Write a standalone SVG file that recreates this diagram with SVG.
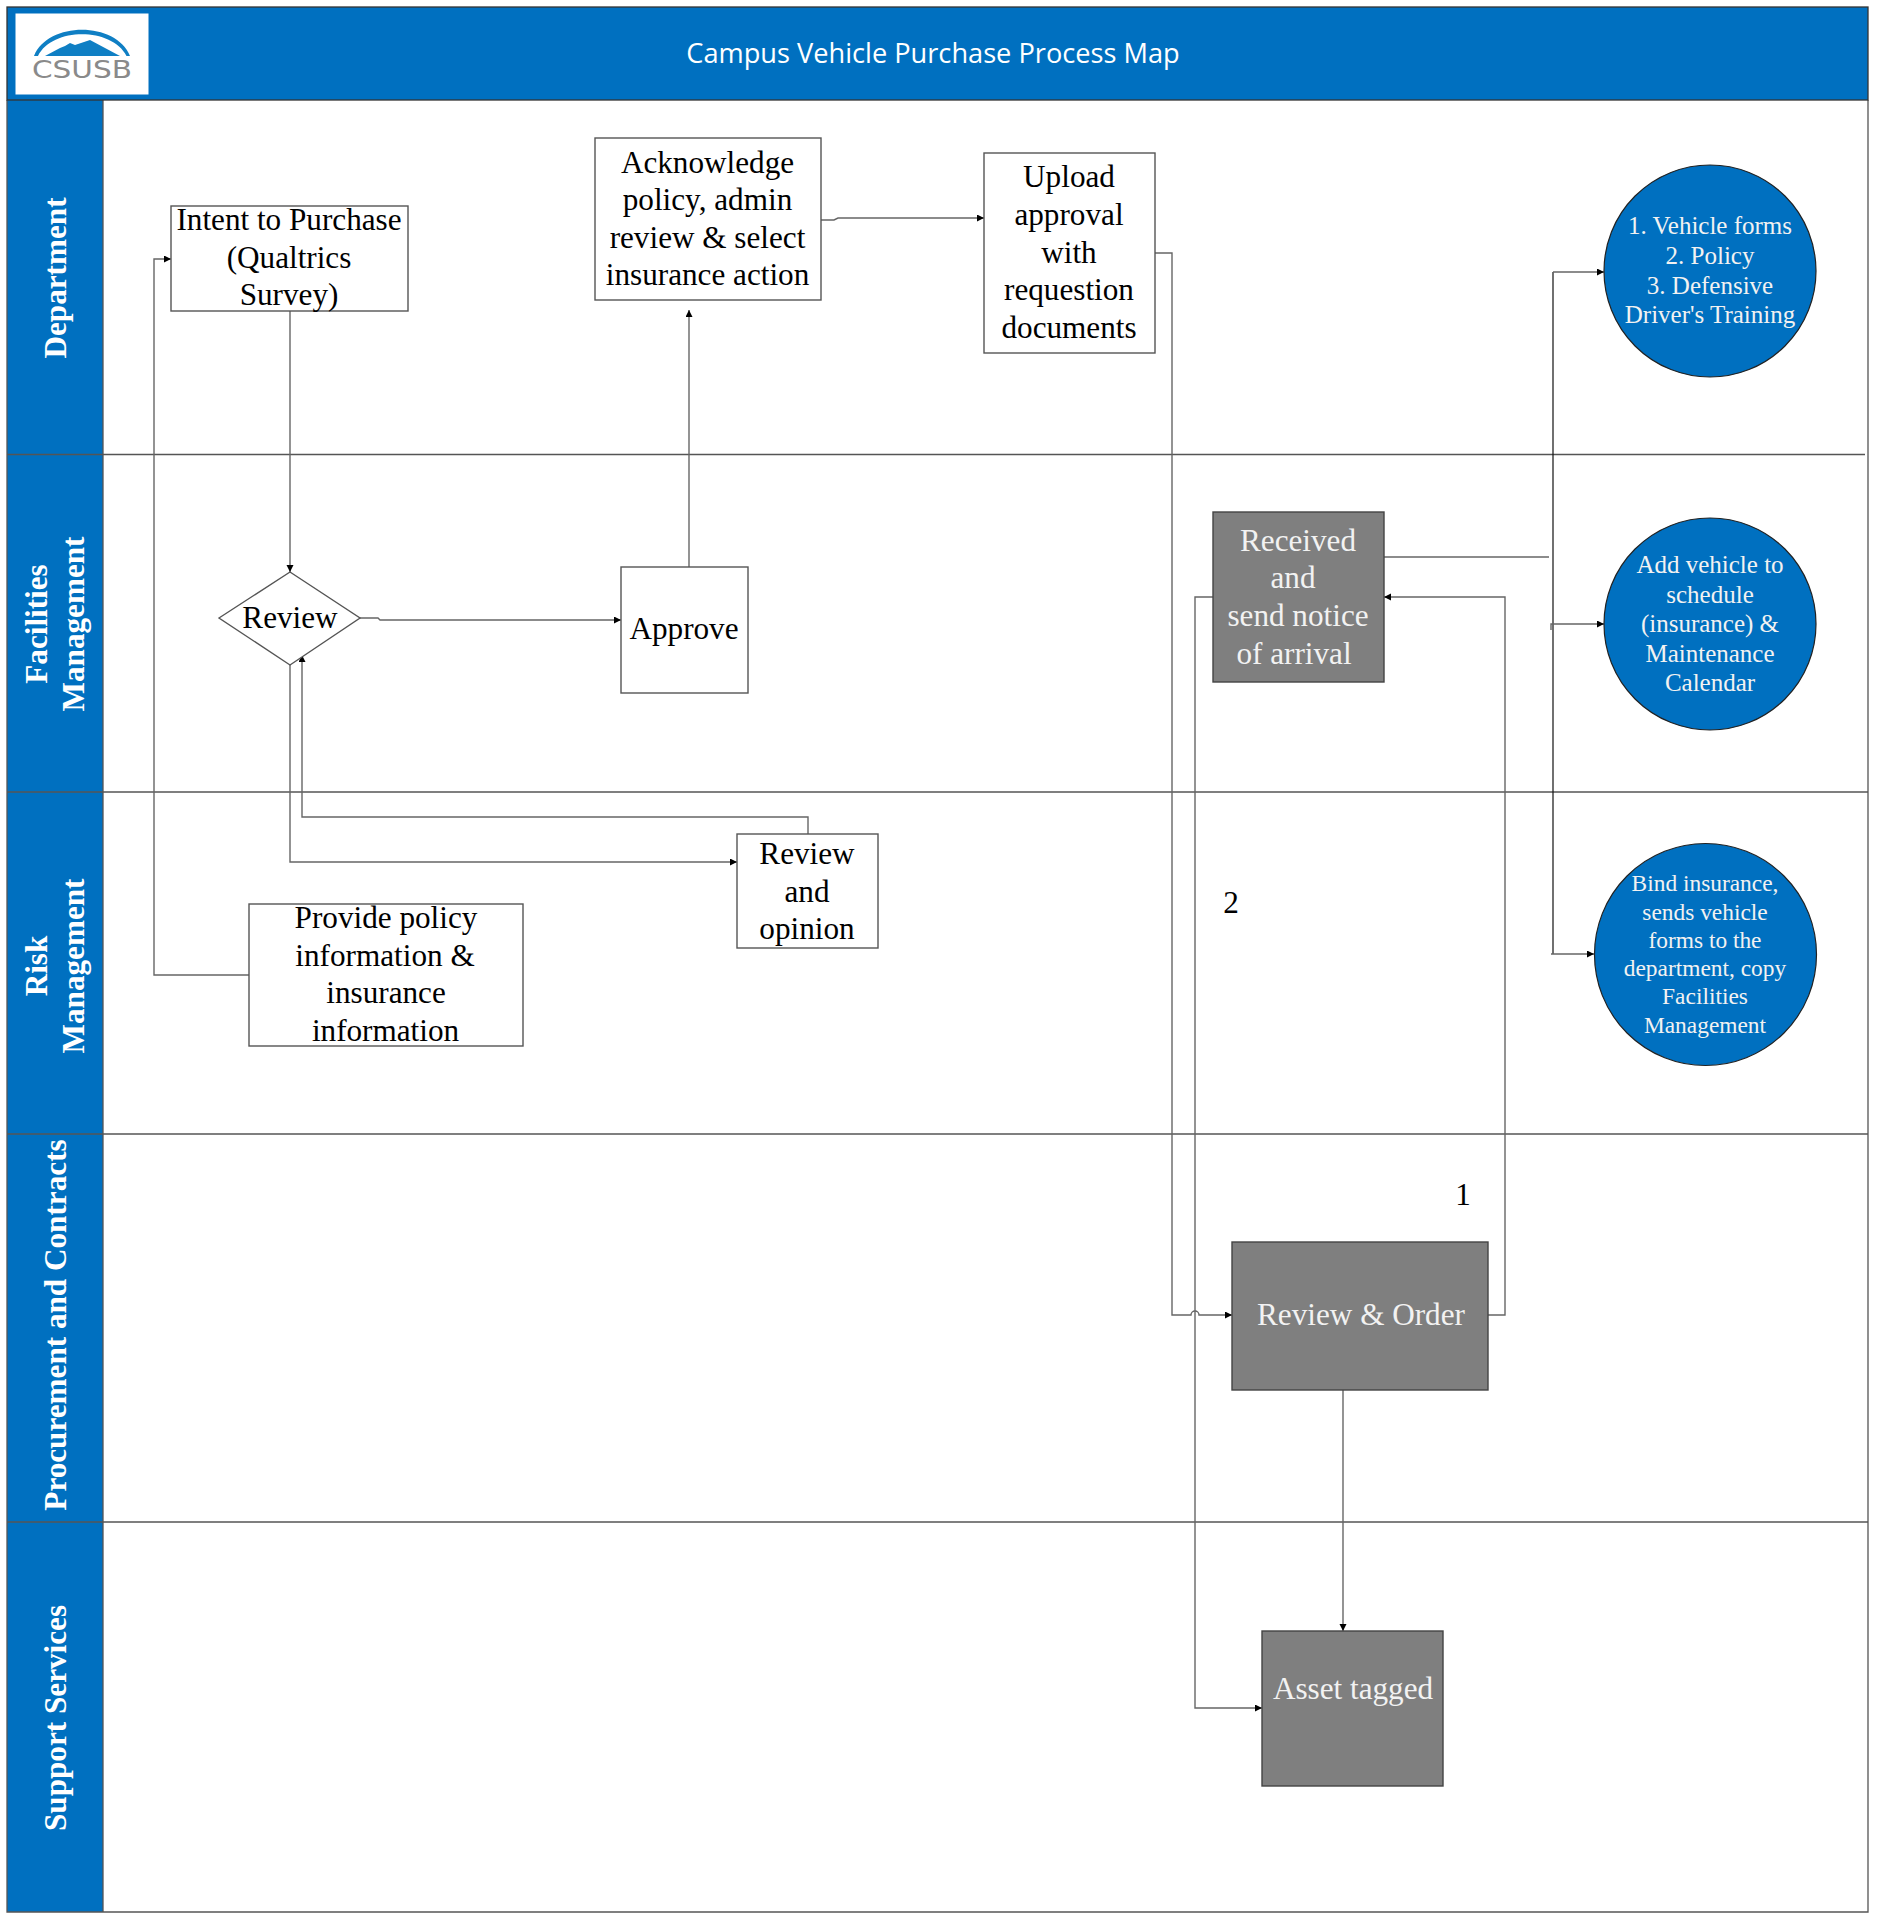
<svg xmlns="http://www.w3.org/2000/svg" width="1878" height="1920" viewBox="0 0 1878 1920">
<style>
text{font-family:"Liberation Serif","Times New Roman",serif;text-anchor:middle}
.n{fill:#fff;stroke:#555;stroke-width:1.4}
.g{fill:#7f7f7f;stroke:#444;stroke-width:1.4}
.c{fill:#0070c0;stroke:#222;stroke-width:1.2}
.t{font-size:31.2px;fill:#000}
.w{font-size:31.2px;fill:#f2f2f2}
.cw{font-size:25px;fill:#f2f2f2}
.lane{font-size:31.2px;font-weight:bold;fill:#fff}
.l{fill:none;stroke:#666;stroke-width:1.4}
.k{fill:none;stroke:#111;stroke-width:1.2}
.a{fill:none;stroke:#666;stroke-width:1.4;marker-end:url(#ar)}
.sep{fill:none;stroke:#555;stroke-width:1.3}
</style>
<defs><marker id="ar" markerUnits="userSpaceOnUse" markerWidth="8" markerHeight="8" refX="7" refY="3.5" orient="auto"><path d="M0,0L7,3.5L0,7z" fill="#000"/></marker></defs>
<rect width="1878" height="1920" fill="#fff"/>
<g id="swimlanes">
<rect x="7" y="100" width="96" height="1812" fill="#0070c0"/>
<path class="sep" d="M7,100V1912H1868V100M103,100V1912M7,454.500H1865M7,792H1868M7,1134H1868M7,1522H1868"/>
</g>
<g id="header">
<rect x="7" y="7" width="1861" height="93" fill="#0070c0" stroke="#333" stroke-width="1.3"/>
<text x="933" y="63" style="font-family:'Open Sans',sans-serif;font-size:27.200px;fill:#fff">Campus Vehicle Purchase Process Map</text>
</g>
<g id="logo">
<rect x="15.500" y="13.500" width="133" height="81" fill="#fff"/>
<path d="M34,56C48,21 116,21 130,56L126.500,56C112,27 52,27 38,56z" fill="#0f7fc4"/>
<path d="M45,56L60,48L65,46L70,43L75,45L90,40L120,56z" fill="#0f7fc4"/>
<text x="82" y="78" textLength="100" lengthAdjust="spacingAndGlyphs" style="font-family:'DejaVu Sans',sans-serif;font-size:24px;fill:#8a8a8a">CSUSB</text>
</g>
<g id="lane-labels">
<text class="lane" transform="translate(65.500,278) rotate(-90)">Department</text>
<text class="lane" transform="translate(46.500,624) rotate(-90)">Facilities</text>
<text class="lane" transform="translate(83.500,624) rotate(-90)">Management</text>
<text class="lane" transform="translate(46.500,966) rotate(-90)">Risk</text>
<text class="lane" transform="translate(83.500,966) rotate(-90)">Management</text>
<text class="lane" transform="translate(65.500,1325) rotate(-90)">Procurement and Contracts</text>
<text class="lane" transform="translate(65.500,1718) rotate(-90)">Support Services</text>
</g>
<g id="connectors">
<path class="a" d="M290,311V572"/>
<path class="a" d="M249,975H154V259H171"/>
<path class="a" d="M360,618H378L380,620H621"/>
<path class="a" d="M689,567V310"/>
<path class="a" d="M821,220H834L838,218H984"/>
<path class="a" d="M1155,253H1172V1315H1191A4,4 0 0 1 1199,1315H1232"/>
<path class="a" d="M1213,597H1195V1708H1262"/>
<path class="a" d="M1488,1315H1505V597H1384"/>
<path class="l" d="M1384,557H1549"/>
<path class="k" d="M1553,272V954"/>
<path class="a" d="M1553,272H1604"/>
<path class="a" d="M1551,630V624H1604"/>
<path class="a" d="M1551,954H1594"/>
<path class="a" d="M1343,1390V1631"/>
<path class="a" d="M290,665V862H737"/>
<path class="a" d="M808,834V817H302V655"/>
</g>
<g id="intent"><rect class="n" x="171" y="206" width="237" height="105"/><text class="t"><tspan x="289" y="230">Intent to Purchase</tspan><tspan x="289" y="268">(Qualtrics</tspan><tspan x="289" y="305">Survey)</tspan></text></g>
<g id="acknowledge"><rect class="n" x="595" y="138" width="226" height="162"/><text class="t"><tspan x="707.500" y="173">Acknowledge</tspan><tspan x="707.500" y="210">policy, admin</tspan><tspan x="707.500" y="248">review &amp; select</tspan><tspan x="707.500" y="285">insurance action</tspan></text></g>
<g id="upload"><rect class="n" x="984" y="153" width="171" height="200"/><text class="t"><tspan x="1069" y="187">Upload</tspan><tspan x="1069" y="225">approval</tspan><tspan x="1069" y="263">with</tspan><tspan x="1069" y="300">requestion</tspan><tspan x="1069" y="338">documents</tspan></text></g>
<g id="review"><path class="n" d="M219,618L290,572L360,618L290,665z"/><text class="t" x="290" y="628">Review</text></g>
<g id="approve"><rect class="n" x="621" y="567" width="127" height="126"/><text class="t" x="684" y="639">Approve</text></g>
<g id="received"><rect class="g" x="1213" y="512" width="171" height="170"/><text class="w"><tspan x="1298" y="551">Received</tspan><tspan x="1293" y="588">and</tspan><tspan x="1298" y="626">send notice</tspan><tspan x="1294" y="664">of arrival</tspan></text></g>
<g id="review-opinion"><rect class="n" x="737" y="834" width="141" height="114"/><text class="t"><tspan x="807" y="863.500">Review</tspan><tspan x="807" y="901.500">and</tspan><tspan x="807" y="938.500">opinion</tspan></text></g>
<g id="provide"><rect class="n" x="249" y="904" width="274" height="142"/><text class="t"><tspan x="386" y="928">Provide policy</tspan><tspan x="385" y="965.500">information &amp;</tspan><tspan x="386" y="1003">insurance</tspan><tspan x="385.500" y="1041">information</tspan></text></g>
<g id="review-order"><rect class="g" x="1232" y="1242" width="256" height="148"/><text class="w" x="1361" y="1325">Review &amp; Order</text></g>
<g id="asset"><rect class="g" x="1262" y="1631" width="181" height="155"/><text class="w" x="1353" y="1699">Asset tagged</text></g>
<g id="circle-forms"><circle class="c" cx="1710" cy="271" r="106"/><text class="cw"><tspan x="1710" y="234">1. Vehicle forms</tspan><tspan x="1710" y="264">2. Policy</tspan><tspan x="1710" y="294">3. Defensive</tspan><tspan x="1710" y="323">Driver's Training</tspan></text></g>
<g id="circle-schedule"><circle class="c" cx="1710" cy="624" r="106"/><text class="cw"><tspan x="1710" y="573">Add vehicle to</tspan><tspan x="1710" y="603">schedule</tspan><tspan x="1710" y="632">(insurance) &amp;</tspan><tspan x="1710" y="662">Maintenance</tspan><tspan x="1710" y="691">Calendar</tspan></text></g>
<g id="circle-bind"><ellipse class="c" cx="1705.500" cy="954.500" rx="111" ry="111"/><text class="cw" style="font-size:23.400px"><tspan x="1705" y="891">Bind insurance,</tspan><tspan x="1705" y="920">sends vehicle</tspan><tspan x="1705" y="948">forms to the</tspan><tspan x="1705" y="976">department, copy</tspan><tspan x="1705" y="1004">Facilities</tspan><tspan x="1705" y="1033">Management</tspan></text></g>
<g id="labels"><text class="t" x="1231" y="913">2</text><text class="t" x="1463" y="1205">1</text></g>
</svg>
